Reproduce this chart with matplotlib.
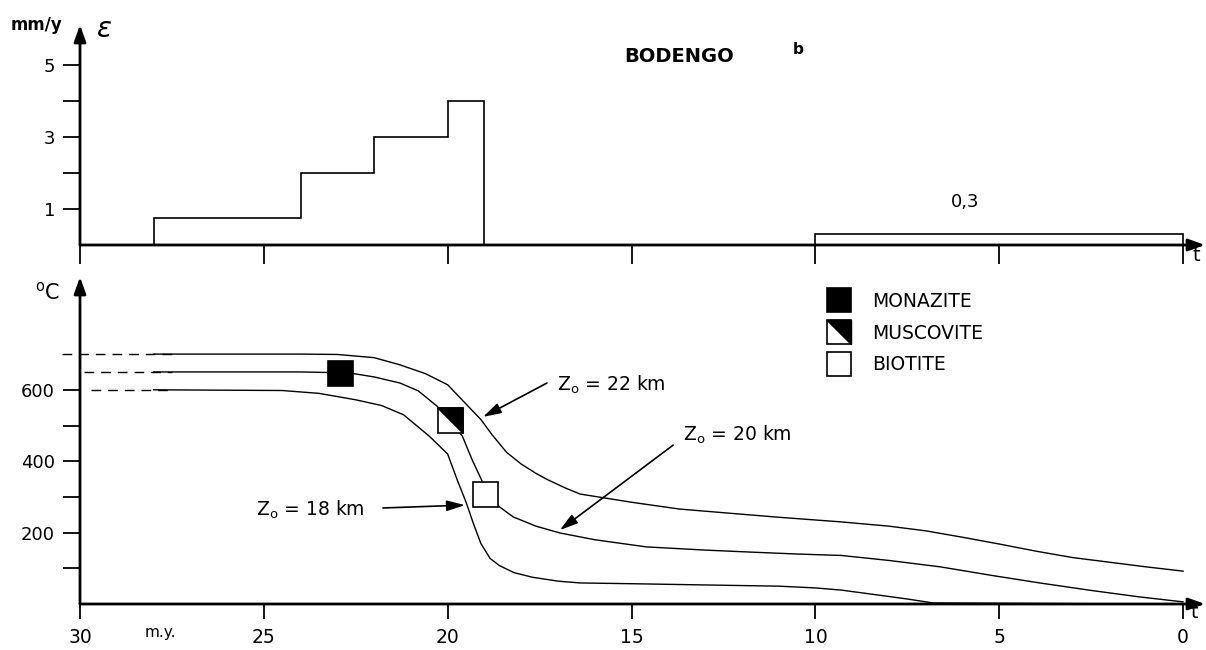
import matplotlib
matplotlib.use("Agg")
import matplotlib.pyplot as plt
from matplotlib.legend_handler import HandlerTuple

plt.rcParams["font.family"] = ["DejaVu Sans"]

# top panel: erosion rate (mm/y) against age (m.y.), stepwise
rate_edges = [0, 10, 19, 20, 22, 24, 28]
rate_values = [0.3, 0, 4, 3, 2, 0.75]

# bottom panel: cooling paths for three initial depths (age m.y., temperature C)
z22_age = [30.5, 28, 24, 23, 22, 21.3, 20.6, 20.0, 19.5, 19.1, 18.8, 18.4, 18.0, 17.6, 17.3, 16.8,
           16.4, 15.0, 13.7, 12.3, 11.0, 9.3, 8.0, 7.0, 6.0, 5.0, 4.0, 3.0, 2.0, 1.0, 0]
z22_temp = [700, 700, 700, 699, 690, 670, 645, 614, 560, 517, 475, 425, 392, 366, 349, 325,
            308, 285, 266, 254, 243, 230, 218, 205, 187, 168, 148, 130, 117, 104, 92]

z20_age = [29.9, 28, 24, 23, 22.6, 22, 21.3, 20.8, 20.3, 19.95, 19.6, 19.34, 19.04, 18.63, 18.22,
           17.6, 16.95, 16, 14.6, 13, 11.9, 10.5, 9.3, 8, 6.6, 5.2, 3.9, 2.5, 1.2, 0]
z20_temp = [650, 650, 650, 648, 646, 636, 619, 597, 555, 515, 470, 405, 339, 275, 244,
            218, 199, 180, 160, 151, 146, 140, 136, 122, 104, 80, 59, 38, 20, 6]

z18_age = [29.7, 28, 24.5, 23.5, 22.5, 21.8, 21.2, 20.5, 20.0, 19.75, 19.5, 19.3, 19.1, 18.85,
           18.6, 18.2, 17.7, 17.0, 16.4, 14.5, 12.8, 11, 10.0, 9.3, 8.5, 7.5, 6.8, 3, 0]
z18_temp = [600, 600, 598, 590, 572, 556, 530, 470, 420, 350, 285, 225, 170, 128,
            108, 88, 75, 64, 59, 56, 53, 50, 45, 39, 28, 14, 3, 1, 0]

dash_until = 27.5  # older part of each path drawn dashed

# mineral ages on the 20 km path
monazite = (22.93, 647)
muscovite = (19.94, 515)
biotite = (18.98, 308)

age_ticks = [30, 25, 20, 15, 10, 5, 0]
rate_ticks = [1, 2, 3, 4, 5]
rate_labels = ["1", "", "3", "", "5"]
temp_ticks = [100, 200, 300, 400, 500, 600]
temp_labels = ["", "200", "", "400", "", "600"]

W, H = 1206, 650
px_my = 36.77
x_left = 30
x_right = 30 - (1205 - 80) / px_my

fig = plt.figure(figsize=(W / 100, H / 100), dpi=100)
ax1 = fig.add_axes([80 / W, 405 / H, 1125 / W, 220 / H])
ax2 = fig.add_axes([80 / W, 46 / H, 1125 / W, 327 / H])

axis_arrow = dict(arrowstyle="-|>,head_length=0.5,head_width=0.18", lw=2.0, color="k",
                  shrinkA=0, shrinkB=0, mutation_scale=20)
for ax in (ax1, ax2):
    ax.set_xlim(x_left, x_right)
    for s in ax.spines.values():
        s.set_visible(False)
    ax.annotate("", xy=(1, 0), xytext=(0, 0), xycoords="axes fraction", arrowprops=axis_arrow)
    ax.annotate("", xy=(0, 1), xytext=(0, 0), xycoords="axes fraction", arrowprops=axis_arrow)
    ax.set_xticks(age_ticks)
    ax.tick_params(axis="y", direction="out", length=12, width=1.3, labelsize=13, pad=6)

# ---- top panel
ax1.set_ylim(0, 220 / 36)
ax1.stairs(rate_values, rate_edges, baseline=0, color="k", lw=1.2)
ax1.set_yticks(rate_ticks, rate_labels)
ax1.tick_params(axis="x", direction="out", length=14, width=1.3, labelbottom=False)
ax1.text(5.93, 1.19, "0,3", ha="center", va="center", fontsize=13)
ax1.text(-0.25, -0.3, "t", ha="left", va="center", fontsize=14)
fig.text(37 / W, 1 - 25 / H, "mm/y", ha="center", va="center", fontsize=12, fontweight="bold")
fig.text(104 / W, 1 - 29 / H, r"$\epsilon$", ha="center", va="center", fontsize=20)
fig.text(679 / W, 1 - 57 / H, "BODENGO", ha="center", va="center", fontsize=14, fontweight="bold")
fig.text(798 / W, 1 - 50 / H, "b", ha="center", va="center", fontsize=11, fontweight="bold")

# ---- bottom panel
ax2.set_ylim(0, 327 / 0.357)
ax2.set_yticks(temp_ticks, temp_labels)
ax2.set_xticks(age_ticks, [str(a) for a in age_ticks])
ax2.tick_params(axis="x", direction="out", length=11, width=1.3, labelsize=13.5, pad=6)

for ages, temps in ((z22_age, z22_temp), (z20_age, z20_temp), (z18_age, z18_temp)):
    old = [i for i, a in enumerate(ages) if a >= 28]
    young = [i for i, a in enumerate(ages) if a <= 28]
    # dashed run-in, then the modelled path
    ax2.plot([ages[old[0]], dash_until], [temps[old[0]], temps[old[-1]]], color="k", lw=1.0,
             ls=(0, (7, 5)), clip_on=False)
    ax2.plot([ages[i] for i in young], [temps[i] for i in young], color="k", lw=1.0)

ms = 18
mon, = ax2.plot(*monazite, marker="s", ms=ms, mfc="k", mec="k", mew=1.2, ls="none")
bio, = ax2.plot(*biotite, marker="s", ms=ms, mfc="white", mec="k", mew=1.2, ls="none")
mus_sq, = ax2.plot(*muscovite, marker="s", ms=ms, mfc="white", mec="k", mew=1.2, ls="none")
tri = [(-1, 1), (1, 1), (1, -1), (-1, 1)]
mus_tri, = ax2.plot(*muscovite, marker=tri, ms=ms, mfc="k", mec="k", mew=1.2, ls="none")

ax2.legend([mon, (mus_sq, mus_tri), bio], ["MONAZITE", "MUSCOVITE", "BIOTITE"],
           handler_map={tuple: HandlerTuple(ndivide=1)},
           loc="upper left", bbox_to_anchor=(827 / W, 1 - 292 / H), bbox_transform=fig.transFigure,
           frameon=False, fontsize=13.5, handlelength=1.3, handletextpad=1.1, labelspacing=0.68,
           borderpad=0, borderaxespad=0, markerscale=0.95)

arrow = dict(arrowstyle="-|>,head_length=0.55,head_width=0.16", lw=1.2, color="k",
             shrinkA=0, shrinkB=0, mutation_scale=20)
ax2.annotate("", xy=(19.04, 524), xytext=(17.30, 619), arrowprops=arrow)
ax2.annotate("", xy=(16.95, 207), xytext=(13.87, 445), arrowprops=arrow)
ax2.annotate("", xy=(19.53, 277), xytext=(21.76, 269), arrowprops=arrow)
ax2.text(17.03, 613, r"Z$_{\mathrm{o}}$ = 22 km", ha="left", va="center", fontsize=13.5)
ax2.text(13.60, 473, r"Z$_{\mathrm{o}}$ = 20 km", ha="left", va="center", fontsize=13.5)
ax2.text(22.25, 263, r"Z$_{\mathrm{o}}$ = 18 km", ha="right", va="center", fontsize=13.5)

ax2.text(-0.2, -25, "t", ha="left", va="center", fontsize=14)
fig.text(160 / W, 1 - 632 / H, "m.y.", ha="center", va="center", fontsize=11)
fig.text(48 / W, 1 - 292 / H, r"$^{\mathrm{o}}$C", ha="center", va="center", fontsize=15)

fig.savefig("out.png", dpi=100)
